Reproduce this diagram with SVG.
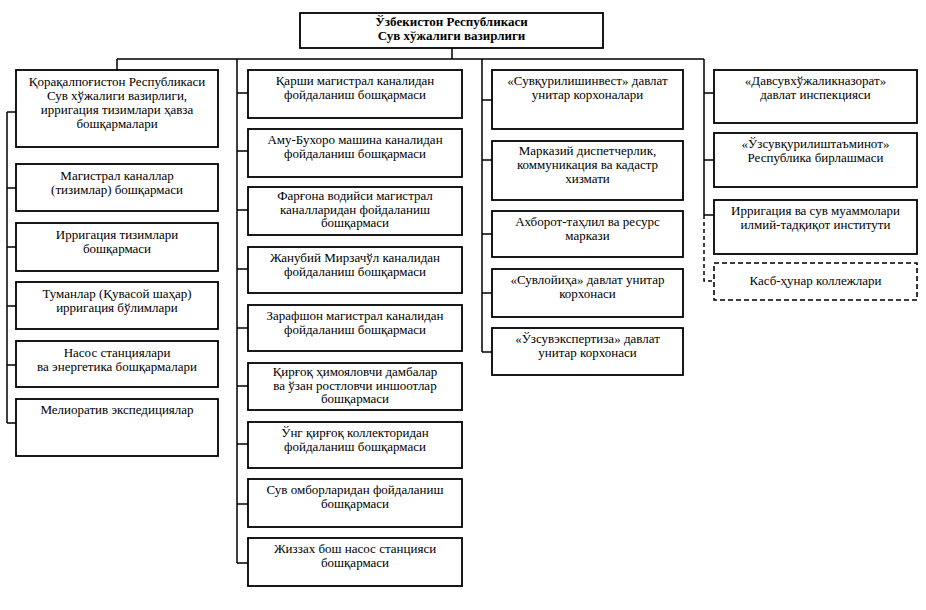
<svg xmlns="http://www.w3.org/2000/svg" width="926" height="610" viewBox="0 0 926 610">
<style>
.b{fill:#fff;stroke:#000;stroke-width:1.8}
.d{fill:#fff;stroke:#000;stroke-width:1.6;stroke-dasharray:5 3}
.c{fill:none;stroke:#000;stroke-width:1.5}
.cd{fill:none;stroke:#000;stroke-width:1.5;stroke-dasharray:4 3}
text{font-family:"Liberation Serif",serif;font-size:13px;text-anchor:middle;fill:#000}
.t{font-weight:bold}
</style>
<rect width="926" height="610" fill="#fff"/>
<g id="connectors">
<path class="c" d="M452 48V59M117 59H704M117 59V70"/>
<path class="c" d="M7 112V423M7 112H16M7 188H16M7 247H16M7 306H16M7 365H16M7 423H16"/>
<path class="c" d="M237 59V563M237 93H248M237 151H248M237 210H248M237 269H248M237 328H248M237 386H248M237 444H248M237 504H248M237 563H248"/>
<path class="c" d="M482 59V352M482 100H492M482 160H492M482 234H492M482 293H492M482 352H492"/>
<path class="c" d="M704 59V215M704 93H714M704 160H714M704 215H714"/>
<path class="cd" d="M704 215V281H714"/>
</g>
<g id="top"><rect class="b" x="300" y="13" width="303" height="35"/><text class="t" x="451.5" y="26">Ўзбекистон Республикаси<tspan x="451.5" dy="14">Сув хўжалиги вазирлиги</tspan></text></g>
<g id="c1n1"><rect class="b" x="16" y="70" width="202" height="77"/><text x="117" y="86">Қорақалпоғистон Республикаси<tspan x="117" dy="14">Сув хўжалиги вазирлиги,</tspan><tspan x="117" dy="14">ирригация тизимлари ҳавза</tspan><tspan x="117" dy="14">бошқармалари</tspan></text></g>
<g id="c1n2"><rect class="b" x="16" y="164" width="202" height="47"/><text x="117" y="180">Магистрал каналлар<tspan x="117" dy="14">(тизимлар) бошқармаси</tspan></text></g>
<g id="c1n3"><rect class="b" x="16" y="223" width="202" height="48"/><text x="117" y="239">Ирригация тизимлари<tspan x="117" dy="14">бошқармаси</tspan></text></g>
<g id="c1n4"><rect class="b" x="16" y="282" width="202" height="47"/><text x="117" y="298">Туманлар (Қувасой шаҳар)<tspan x="117" dy="14">ирригация бўлимлари</tspan></text></g>
<g id="c1n5"><rect class="b" x="16" y="341" width="202" height="46"/><text x="117" y="357">Насос станциялари<tspan x="117" dy="14">ва энергетика бошқармалари</tspan></text></g>
<g id="c1n6"><rect class="b" x="16" y="399" width="202" height="57"/><text x="117" y="414">Мелиоратив экспедициялар</text></g>
<g id="c2n1"><rect class="b" x="248" y="70" width="214" height="48"/><text x="355" y="85">Қарши магистрал каналидан<tspan x="355" dy="14">фойдаланиш бошқармаси</tspan></text></g>
<g id="c2n2"><rect class="b" x="248" y="129" width="214" height="48"/><text x="355" y="144">Аму-Бухоро машина каналидан<tspan x="355" dy="14">фойдаланиш бошқармаси</tspan></text></g>
<g id="c2n3"><rect class="b" x="248" y="187" width="214" height="48"/><text x="355" y="200">Фарғона водийси магистрал<tspan x="355" dy="13.5">каналларидан фойдаланиш</tspan><tspan x="355" dy="13.5">бошқармаси</tspan></text></g>
<g id="c2n4"><rect class="b" x="248" y="247" width="214" height="46"/><text x="355" y="262">Жанубий Мирзачўл каналидан<tspan x="355" dy="14">фойдаланиш бошқармаси</tspan></text></g>
<g id="c2n5"><rect class="b" x="248" y="305" width="214" height="46"/><text x="355" y="320">Зарафшон магистрал каналидан<tspan x="355" dy="14">фойдаланиш бошқармаси</tspan></text></g>
<g id="c2n6"><rect class="b" x="248" y="363" width="214" height="47"/><text x="355" y="376">Қирғоқ ҳимояловчи дамбалар<tspan x="355" dy="13.5">ва ўзан ростловчи иншоотлар</tspan><tspan x="355" dy="13.5">бошқармаси</tspan></text></g>
<g id="c2n7"><rect class="b" x="248" y="422" width="214" height="46"/><text x="355" y="437">Ўнг қирғоқ коллекторидан<tspan x="355" dy="14">фойдаланиш бошқармаси</tspan></text></g>
<g id="c2n8"><rect class="b" x="248" y="479" width="214" height="48"/><text x="355" y="494">Сув омборларидан фойдаланиш<tspan x="355" dy="14">бошқармаси</tspan></text></g>
<g id="c2n9"><rect class="b" x="248" y="538" width="214" height="48"/><text x="355" y="553">Жиззах бош насос станцияси<tspan x="355" dy="14">бошқармаси</tspan></text></g>
<g id="c3n1"><rect class="b" x="492" y="70" width="191" height="59"/><text x="587.5" y="85">«Сувқурилишинвест» давлат<tspan x="587.5" dy="14">унитар корхоналари</tspan></text></g>
<g id="c3n2"><rect class="b" x="492" y="141" width="191" height="59"/><text x="587.5" y="155">Марказий диспетчерлик,<tspan x="587.5" dy="14">коммуникация ва кадастр</tspan><tspan x="587.5" dy="14">хизмати</tspan></text></g>
<g id="c3n3"><rect class="b" x="492" y="211" width="191" height="46"/><text x="587.5" y="226">Ахборот-таҳлил ва ресурс<tspan x="587.5" dy="14">маркази</tspan></text></g>
<g id="c3n4"><rect class="b" x="492" y="269" width="191" height="48"/><text x="587.5" y="284">«Сувлойиҳа» давлат унитар<tspan x="587.5" dy="14">корхонаси</tspan></text></g>
<g id="c3n5"><rect class="b" x="492" y="328" width="191" height="47"/><text x="587.5" y="343">«Ўзсувэкспертиза» давлат<tspan x="587.5" dy="14">унитар корхонаси</tspan></text></g>
<g id="c4n1"><rect class="b" x="714" y="70" width="203" height="53"/><text x="815.5" y="85">«Давсувхўжаликназорат»<tspan x="815.5" dy="14">давлат инспекцияси</tspan></text></g>
<g id="c4n2"><rect class="b" x="714" y="133" width="203" height="54"/><text x="815.5" y="148">«Ўзсувқурилиштаъминот»<tspan x="815.5" dy="14">Республика бирлашмаси</tspan></text></g>
<g id="c4n3"><rect class="b" x="714" y="200" width="203" height="54"/><text x="815.5" y="215">Ирригация ва сув муаммолари<tspan x="815.5" dy="14">илмий-тадқиқот институти</tspan></text></g>
<g id="c4n4"><rect class="d" x="714" y="263" width="203" height="37"/><text x="815.5" y="285">Касб-ҳунар коллежлари</text></g>
</svg>
